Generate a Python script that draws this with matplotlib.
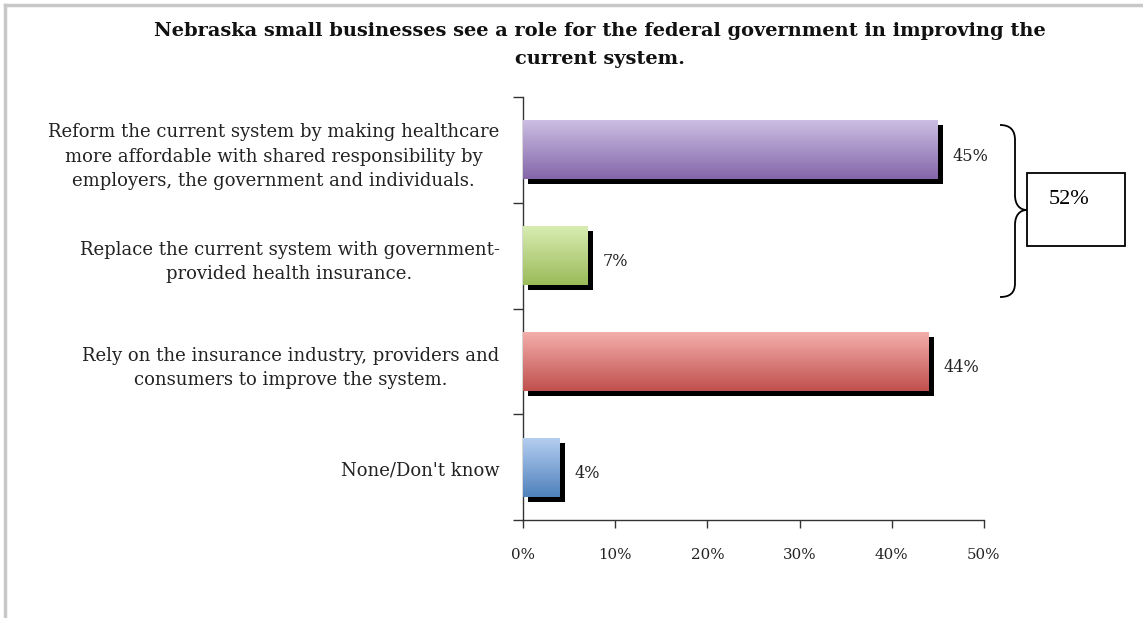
import numpy as np
import matplotlib
matplotlib.use("Agg")
import matplotlib.pyplot as plt
from matplotlib import transforms
from matplotlib.path import Path
from matplotlib.patches import PathPatch, Rectangle
from matplotlib.lines import Line2D

# ---------------- data ----------------
title = "Nebraska small businesses see a role for the federal government in improving the\ncurrent system."
categories = [
    "Reform the current system by making healthcare\nmore affordable with shared responsibility by\nemployers, the government and individuals.",
    "Replace the current system with government-\nprovided health insurance.",
    "Rely on the insurance industry, providers and\nconsumers to improve the system.",
    "None/Don't know",
]
values = [45, 7, 44, 4]
value_labels = ["45%", "7%", "44%", "4%"]
x_ticks = [0, 10, 20, 30, 40, 50]
x_tick_labels = ["0%", "10%", "20%", "30%", "40%", "50%"]
group_total_label = "52%"
# gradient colours (top, bottom)
grad_top = ["#cdc0e4", "#d9edb3", "#f5b0ad", "#b6cff0"]
grad_bot = ["#8466a8", "#9bbb59", "#c0504d", "#4f81bd"]

W, H = 1143, 618
fig = plt.figure(figsize=(W / 100, H / 100), dpi=100)
fig.patch.set_facecolor("white")

def fx(x):
    return x / W

def fy(y):
    return 1 - y / H

ax = fig.add_axes([fx(523), fy(520), fx(984) - fx(523), fy(97) - fy(520)])
n = len(categories)
ypos = np.arange(n)
ax.set_ylim(n - 0.5, -0.5)
ax.set_xlim(0, 50)

bar_h = 0.56
serif = "DejaVu Serif"

shadow_tr = transforms.offset_copy(ax.transData, fig=fig, x=5, y=-5, units="dots")
ax.barh(ypos, values, height=bar_h, color="black", transform=shadow_tr, zorder=1)
bars = ax.barh(ypos, values, height=bar_h, color="none", zorder=2)

for i, b in enumerate(bars):
    c1 = np.array(matplotlib.colors.to_rgb(grad_top[i]))
    c2 = np.array(matplotlib.colors.to_rgb(grad_bot[i]))
    t = np.linspace(0, 1, 100)[:, None]
    img = (c1 * (1 - t) + c2 * t)[:, None, :]
    x0, y0 = b.get_x(), b.get_y()
    w, h = b.get_width(), b.get_height()
    im = ax.imshow(img, extent=[x0, x0 + w, y0 + h, y0], aspect="auto",
                   zorder=3, interpolation="bilinear", origin="upper")
    clip = Rectangle((x0, y0), w, h, transform=ax.transData)
    im.set_clip_path(clip)
    ax.text(values[i] + 1.6, ypos[i] + 0.06, value_labels[i], fontsize=11.6,
            family=serif, color="#222222", va="center", ha="left", zorder=4)

ax.set_xlim(0, 50)
ax.set_ylim(n - 0.5, -0.5)

# spines
for s in ["top", "right"]:
    ax.spines[s].set_visible(False)
for s in ["left", "bottom"]:
    ax.spines[s].set_color("#333333")
    ax.spines[s].set_linewidth(1.0)

ax.set_xticks(x_ticks)
ax.set_xticklabels(x_tick_labels, family=serif, fontsize=10.8, color="#222222")
ax.tick_params(axis="x", direction="out", length=6, width=1, color="#333333", pad=14)

ax.set_yticks(ypos)
ax.set_yticklabels(categories, family=serif, fontsize=12.95, color="#222222",
                   multialignment="center", linespacing=1.45)
ax.set_yticks(np.arange(-0.5, n, 1.0), minor=True)
ax.tick_params(axis="y", which="major", length=0, pad=17)
ax.tick_params(axis="y", which="minor", length=7, width=1, color="#333333", direction="out")
for lab in ax.get_yticklabels():
    lab.set_transform(lab.get_transform() + transforms.ScaledTranslation(0, -1.5 / 100, fig.dpi_scale_trans))

# title
fig.text(fx(600), fy(45), title, ha="center", va="center", family=serif,
         fontweight="bold", fontsize=13.95, color="#111111", linespacing=1.75,
         multialignment="center")

# brace (figure pixel path)
verts = [
    (1000, 125), (1010, 125), (1015, 130), (1015, 140),
    (1015, 195),
    (1015, 205), (1020, 210), (1027, 210),
    (1020, 210), (1015, 215), (1015, 225),
    (1015, 283),
    (1015, 293), (1010, 297), (1000, 297),
]
codes = [Path.MOVETO, Path.CURVE4, Path.CURVE4, Path.CURVE4,
         Path.LINETO,
         Path.CURVE4, Path.CURVE4, Path.CURVE4,
         Path.CURVE4, Path.CURVE4, Path.CURVE4,
         Path.LINETO,
         Path.CURVE4, Path.CURVE4, Path.CURVE4]
verts_f = [(fx(x), fy(y)) for x, y in verts]
fig.add_artist(PathPatch(Path(verts_f, codes), transform=fig.transFigure,
                         facecolor="none", edgecolor="black", lw=1.3))

# box with total
fig.add_artist(Rectangle((fx(1027), fy(246)), fx(1125) - fx(1027), fy(173) - fy(246),
                         transform=fig.transFigure, facecolor="white",
                         edgecolor="black", lw=1.3))
fig.text(fx(1069), fy(200), group_total_label, ha="center", va="center",
         family="Liberation Serif", fontsize=16, color="black")

# page frame
fig.add_artist(Line2D([fx(5), fx(5)], [fy(5), 0], transform=fig.transFigure,
                      color="#c8c8c8", lw=2.5))
fig.add_artist(Line2D([fx(5), 1], [fy(5), fy(5)], transform=fig.transFigure,
                      color="#c8c8c8", lw=2.5))

fig.savefig("out.png", dpi=100)
